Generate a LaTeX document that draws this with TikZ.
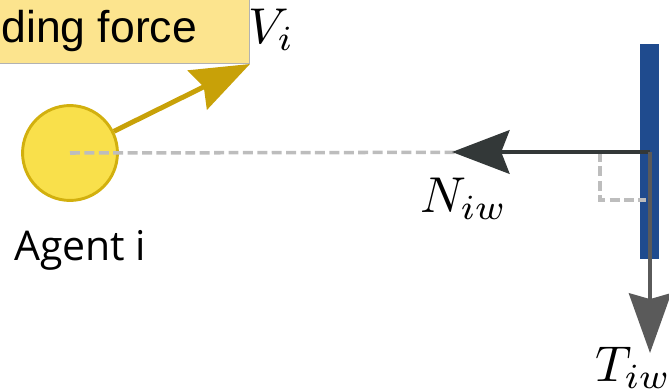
\documentclass[tikz,border=0pt]{standalone}
\usepackage{fontspec}
\usepackage{amsmath}
\usepackage{graphicx}
\usepackage{tikz}
\usetikzlibrary{arrows.meta, positioning, calc}

\newfontfamily\boxfont{Liberation Sans}
\newfontfamily\agentfont{Open Sans}
\newcommand{\biglab}[1]{\scalebox{4.3}{$#1$}}

\definecolor{agentfill}{HTML}{F9E04B}
\definecolor{agentdraw}{HTML}{D2B00E}
\definecolor{velcol}{HTML}{C8A108}
\definecolor{boxfill}{HTML}{FCE48E}
\definecolor{wallcol}{HTML}{1F4B8E}
\definecolor{normcol}{HTML}{333838}
\definecolor{tangcol}{HTML}{5A5A5A}
\definecolor{guidecol}{HTML}{BDBDBD}

\begin{document}
\begin{tikzpicture}[
    x=0.03cm, y=-0.03cm,
    agent/.style={circle, draw=agentdraw, line width=2.5pt, fill=agentfill, minimum size=81pt, inner sep=0pt},
    forcebox/.style={rectangle, draw=black!30, line width=0.6pt, fill=boxfill, inner xsep=45pt, inner ysep=10pt, text height=34pt, text depth=8pt, font=\boxfont\fontsize{38}{44}\selectfont},
    agentlab/.style={inner sep=0pt, font=\agentfont\fontsize{35}{42}\selectfont},
    mathlab/.style={inner sep=0pt},
    wallbox/.style={rectangle, fill=wallcol, minimum width=16pt, minimum height=184pt, inner sep=0pt},
    guide/.style={draw=guidecol, line width=3pt, dash pattern=on 8.5pt off 3.8pt},
    velarrow/.style={-{Stealth[length=50pt, width=37pt, inset=6pt]}, draw=velcol, fill=velcol, line width=4.2pt},
    normarrow/.style={-{Stealth[length=49pt, width=37pt, inset=7pt]}, draw=normcol, fill=normcol, line width=4.2pt},
    tangarrow/.style={-{Stealth[length=51pt, width=36pt, inset=5pt]}, draw=tangcol, fill=tangcol, line width=3pt}
]
\useasboundingbox (0,0) rectangle (669,392);
\clip (0,0) rectangle (669,392);

% =============================================================
% Agent and its velocity
% =============================================================
\node[forcebox, anchor=south east] (force) at (250,64) {ding force};
\node[mathlab, anchor=base west] (vlab) at (248,43) {\biglab{V_i}};

\node[agent] (agent) at (70,153) {};
\node[agentlab, anchor=base west] (agentlab) at (14,260) {Agent i};

\coordinate (wallhit) at (650,152);
\coordinate (vtip) at (250,64);
\draw[guide] (agent.center) -- (wallhit);
\draw[velarrow] (agent) -- (vtip);

% =============================================================
% Wall with normal and tangential directions
% =============================================================
\node[wallbox] (wall) at (649.5,151.5) {};

% right angle mark
\coordinate (rA) at (600,152);
\coordinate (rB) at (646,200);
\draw[guide] (rA) |- (rB);

\coordinate (ntip) at (452,152);
\coordinate (ttip) at (650,353);
\draw[normarrow] (wallhit) -- (ntip);
\draw[tangarrow] (wallhit) -- (ttip);

\node[mathlab, anchor=base west] (nlab) at (420,212) {\biglab{N_{iw}}};
\node[mathlab, anchor=base west] (tlab) at (595,381) {\biglab{T_{iw}}};

\end{tikzpicture}
\end{document}
